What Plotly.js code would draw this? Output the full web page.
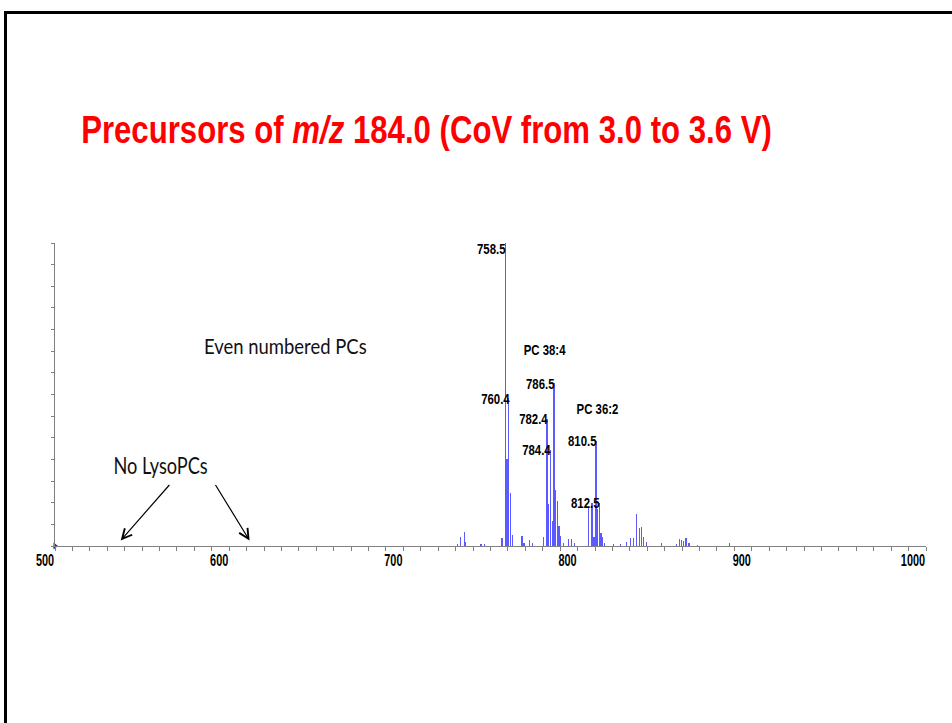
<!DOCTYPE html>
<html>
<head>
<meta charset="utf-8">
<script src="https://cdn.plot.ly/plotly-3.0.1.min.js"></script>
<style>
  html, body { margin: 0; padding: 0; background: #fff; }
  #chart { width: 952px; height: 723px; }
  #frame { position: absolute; left: 4px; top: 11px; width: 960px; height: 720px;
           border-left: 3px solid #000; border-top: 3px solid #000; pointer-events: none; }
</style>
</head>
<body>
<div id="chart"></div>
<div id="frame"></div>
<script>
// m/z of each detected precursor peak
const peakMz = [731.0, 732.8, 734.9, 735.8, 744.6, 746.7, 756.6, 758.5, 759.5, 760.4, 761.5, 762.5,
  768.1, 769.2, 772.5, 773.9, 780.5, 782.4, 783.4, 784.4, 785.4, 786.5, 787.5, 788.3, 789.3, 790.3,
  792.0, 794.8, 796.7, 798.3, 806.4, 808.3, 809.4, 810.5, 811.5, 812.5, 813.4, 814.4, 815.6, 820.5,
  824.5, 828.2, 830.2, 832.1, 834.0, 835.5, 836.5, 837.8, 839.5, 848.3, 856.8, 858.3, 859.5, 860.8,
  862.2, 864.0, 869.0, 887.1];
// intensity (counts) of each peak
const peakIntensity = [900, 4200, 6500, 1900, 900, 900, 3700, 140000, 40300, 68200, 24600, 5100,
  4600, 1400, 2800, 1400, 4200, 58900, 19500, 44500, 11600, 75100, 26000, 20900, 9300, 4600,
  1400, 3200, 3200, 1400, 17600, 19900, 4200, 48700, 17200, 19900, 6000, 4200, 1400, 900,
  900, 1900, 3700, 3700, 14800, 8300, 8800, 4200, 1900, 1400, 900, 3200, 2800, 2300,
  3700, 1400, 500, 1400];

// labelled peaks
const labelMz = [758.5, 760.4, 782.4, 784.4, 786.5, 810.5, 812.5];
const labelText = ["758.5", "760.4", "782.4", "784.4", "786.5", "810.5", "812.5"];

// lipid class labels
const pcText = ["PC 38:4", "PC 36:2"];
const pcX = [781.4, 811.2];
const pcY = [90600, 63700];

// free text notes
const noteText = ["Even numbered PCs", "No LysoPCs"];
const noteX = [632.3, 560.7];
const noteY = [92500, 37300];

// arrow heads for "No LysoPCs"
const arrowX = [537.7, 611.7];
const arrowY = [2550, 2550];

const xTickVals = [500, 600, 700, 800, 900, 1000];

const arialLike = '"Liberation Sans", Arimo, Arial, sans-serif';
const lblFont = {family: arialLike, size: 15, color: '#000', weight: 700};
const NARROW = 0.82;
const LBL_SX = 0.76;

const annotations = [];
labelMz.forEach((m, i) => {
  const idx = peakMz.indexOf(m);
  annotations.push({
    x: m, y: peakIntensity[idx], xref: 'x', yref: 'y', text: labelText[i],
    showarrow: false, xanchor: 'right', yanchor: 'middle', xshift: 3,
    yshift: m === 758.5 ? -5 : 0, font: lblFont, _sx: LBL_SX, _sy: 1
  });
});
pcText.forEach((t, i) => annotations.push({
  x: pcX[i], y: pcY[i], xref: 'x', yref: 'y', text: t, showarrow: false,
  xanchor: 'center', yanchor: 'middle', font: lblFont, _sx: LBL_SX, _sy: 1
}));
const noteSize = [20.5, 23];
const noteSx = [0.9, 0.79];
noteText.forEach((t, i) => annotations.push({
  x: noteX[i], y: noteY[i], xref: 'x', yref: 'y', text: t, showarrow: false,
  xanchor: 'center', yanchor: 'middle', _sx: noteSx[i], _sy: 1,
  font: {family: 'Lato, "Open Sans", sans-serif', size: noteSize[i], color: '#111'}
}));
const arrowAx = [50, -35];
arrowX.forEach((x, i) => annotations.push({
  x: x, y: arrowY[i], xref: 'x', yref: 'y', text: '', showarrow: true,
  ax: arrowAx[i], ay: -57, arrowhead: 5, arrowsize: 1.6, arrowwidth: 1.2, arrowcolor: '#000'
}));

const squeezeInfo = annotations.map(a => ({sx: a._sx || 1, sy: a._sy || 1, xanchor: a.xanchor}));
annotations.forEach(a => { delete a._sx; delete a._sy; });

const traces = [
  {
    type: 'bar', x: peakMz, y: peakIntensity, width: 0.7,
    marker: {color: '#5a5aff', line: {width: 0}}, hoverinfo: 'x+y'
  },
  {
    type: 'scatter', mode: 'markers', x: [500], y: [0], cliponaxis: false,
    marker: {symbol: 'triangle-right', size: 6, color: '#2020d0'}, hoverinfo: 'skip'
  }
];

const layout = {
  width: 952, height: 723,
  margin: {l: 55, r: 26, t: 243, b: 177, autoexpand: false},
  paper_bgcolor: '#fff', plot_bgcolor: '#fff',
  showlegend: false,
  title: {
    text: 'Precursors of <i>m/z</i> 184.0 (CoV from 3.0 to 3.6 V)',
    x: 0.448, xref: 'container', xanchor: 'center', y: 0.82, yref: 'container', yanchor: 'middle',
    font: {family: arialLike, size: 38, color: '#ff0000', weight: 700}
  },
  xaxis: {
    range: [500, 1000], tickvals: xTickVals, ticktext: xTickVals.map(String),
    showline: true, linecolor: '#808080', linewidth: 1,
    ticks: 'outside', ticklen: 4, tickcolor: '#808080', tickwidth: 1,
    minor: {dtick: 10, ticks: 'outside', ticklen: 4, tickcolor: '#808080'},
    ticklabelposition: 'outside left',
    tickfont: {family: arialLike, size: 16, color: '#000', weight: 700},
    showgrid: false, zeroline: false, fixedrange: true
  },
  yaxis: {
    range: [0, 140000], dtick: 10000, showticklabels: false,
    showline: true, linecolor: '#808080', linewidth: 1,
    ticks: 'outside', ticklen: 3, tickcolor: '#808080',
    showgrid: false, zeroline: false, fixedrange: true
  },
  bargap: 0,
  annotations: annotations
};

function squeeze(t, sx, sy, pivot) {
  const bb = t.getBBox();
  let cx;
  if (pivot === 'right') cx = bb.x + bb.width;
  else if (pivot === 'left') cx = bb.x;
  else cx = bb.x + bb.width / 2;
  const cy = bb.y + bb.height / 2;
  const prev = t.getAttribute('transform') || '';
  t.setAttribute('transform',
    prev + ' translate(' + cx + ',' + cy + ') scale(' + sx + ',' + sy + ') translate(' + (-cx) + ',' + (-cy) + ')');
}

Plotly.newPlot('chart', traces, layout, {displayModeBar: false, staticPlot: true}).then(gd => {
  const title = gd.querySelector('text.gtitle');
  if (title) squeeze(title, NARROW, 1, 'center');
  gd.querySelectorAll('.xtick text').forEach(t => {
    const anchor = t.getAttribute('text-anchor');
    squeeze(t, 0.68, 1, anchor === 'end' ? 'right' : (anchor === 'start' ? 'left' : 'center'));
  });
  gd.querySelectorAll('g.annotation').forEach(g => {
    const i = +g.getAttribute('data-index');
    const info = squeezeInfo[i];
    const t = g.querySelector('text.annotation-text');
    if (!t || !info || (info.sx === 1 && info.sy === 1)) return;
    squeeze(t, info.sx, info.sy, info.xanchor);
  });
});
</script>
</body>
</html>
